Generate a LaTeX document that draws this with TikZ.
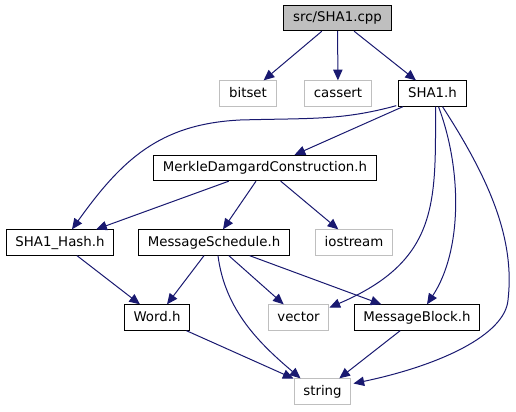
\documentclass[tikz,border=0pt]{standalone}
\usepackage{fontspec}
\setmainfont{DejaVu Sans}
\usetikzlibrary{arrows.meta}
\definecolor{depblue}{HTML}{191970}
\definecolor{sysgray}{HTML}{BFBFBF}

\begin{document}
\begin{tikzpicture}[
  x=0.75pt,y=-0.75pt,
  font=\fontsize{10}{12}\selectfont,
  file/.style={rectangle,draw=black,line width=0.75pt,inner xsep=7pt,inner ysep=0pt,
    minimum height=19pt,text height=7.5pt,text depth=2.2pt,fill=white},
  sysfile/.style={file,draw=sysgray},
  root/.style={file,fill=sysgray},
  dep/.style={-{Triangle[length=8pt,width=7pt]},color=depblue,line width=0.75pt},
]
\useasboundingbox (0,0) rectangle (516,411);
\node[root] (cpp) at (337.5,18) {src/SHA1.cpp};
\node[sysfile] (bitset) at (248,93.5) {bitset};
\node[sysfile] (cassert) at (338,93.5) {cassert};
\node[file] (sha1h) at (432.5,93.5) {SHA1.h};
\node[file] (merkle) at (265,168) {MerkleDamgardConstruction.h};
\node[file] (hash) at (60,242.5) {SHA1\_Hash.h};
\node[file] (sched) at (214,242.5) {MessageSchedule.h};
\node[sysfile] (iostream) at (354,242.5) {iostream};
\node[file] (word) at (157,317.5) {Word.h};
\node[sysfile] (vector) at (298.5,317.5) {vector};
\node[file] (block) at (417,317.5) {MessageBlock.h};
\node[sysfile] (string) at (322.5,391.5) {string};
% src/SHA1.cpp
\draw[dep] (cpp)--(bitset); \draw[dep] (cpp)--(cassert); \draw[dep] (cpp)--(sha1h);
% SHA1.h
\draw[dep] ([shift={(-2,-1)}]sha1h.south west) .. controls +(-55,15) and +(70,-2) .. (240,120)
  .. controls +(-80,4) and +(50,-70) .. ([shift={(12,0)}]hash.north);
\draw[dep] (sha1h)--(merkle);
\draw[dep] ([shift={(3,0)}]sha1h.south) .. controls +(0,95) and +(110,-47) .. ([shift={(0,-10)}]vector.east);
\draw[dep] ([shift={(6,0)}]sha1h.south) .. controls +(24,64) and +(35,-53) .. ([shift={(10,0)}]block.north);
\draw[dep] ([shift={(10,0)}]sha1h.south) .. controls +(48,74) and +(7,-60) .. (508,300)
  .. controls +(-3,35) and +(86,-18) .. ([shift={(2,-8)}]string.east);
% MerkleDamgardConstruction.h
\draw[dep] (merkle)--(hash); \draw[dep] (merkle)--(sched); \draw[dep] (merkle)--(iostream);
% second row
\draw[dep] (hash)--(word);
\draw[dep] (sched)--(word); \draw[dep] (sched)--(vector); \draw[dep] (sched)--(block);
\draw[dep] ([shift={(4,0)}]sched.south) .. controls +(7,55) and +(-40,-34) .. ([shift={(-22,0)}]string.north);
% bottom row
\draw[dep] (word)--(string); \draw[dep] (block)--(string);
\end{tikzpicture}
\end{document}
